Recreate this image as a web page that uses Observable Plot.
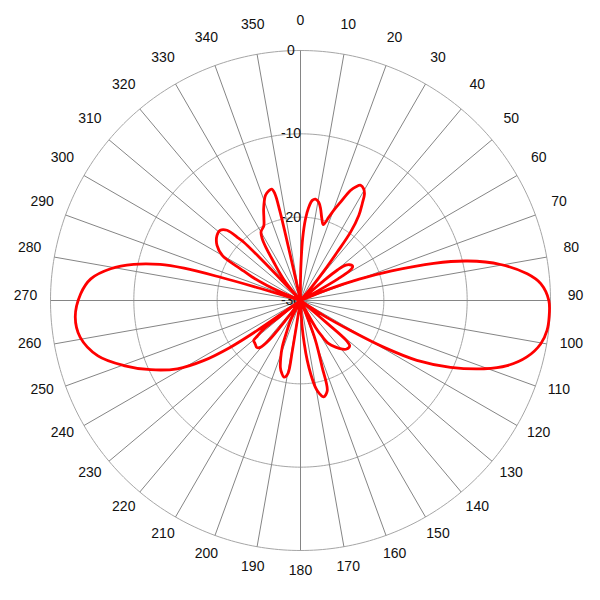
<!DOCTYPE html>
<html>
<head>
<meta charset="utf-8">
<script src="https://cdn.jsdelivr.net/npm/d3@7"></script>
<script src="https://cdn.jsdelivr.net/npm/@observablehq/plot@0.6"></script>
<style>
  body { margin: 0; background: #fff; }
  #chart svg { display: block; background: #fff; }
</style>
</head>
<body>
<div id="chart"></div>
<script>
// Pattern: azimuth (degrees, clockwise from top) and gain (dB).
const angles = [
  0, 1, 2, 3.5, 5, 6.7, 8.4, 10.5, 12.3, 14.5, 16.7, 18.8, 20.5, 22.1, 24.4, 26, 27.6, 29.5, 31, 32.5, 34.4, 36.2, 37.2, 38.5, 40, 41.5,
  48.5, 49.5, 50.5, 52, 54, 56, 57.5, 59, 60, 61, 62,
  66, 68, 70, 72, 74.4, 76.7, 79.8, 83.3, 86, 90, 93.8, 96.9, 100.2, 104, 107.5, 110.4, 114, 117.2, 119.3, 121, 123, 125, 126,
  129.5, 130.5, 131, 132.5, 134, 137, 139.2, 143, 146.8, 149, 150.7, 152.5,
  156.5, 158.1, 159.4, 162, 163.5, 166.5, 168.5, 170.2, 172, 173.6, 175, 176.4, 178,
  188.5, 189.2, 189.6, 191, 192.3, 194.5, 196.7, 199, 201.4, 204, 206.6, 208.5,
  215.5, 216.9, 218.4, 220.6, 223, 225, 227, 229.4, 230.5, 231.9, 232.4, 233,
  234.5, 235.3, 236.3, 238.2, 241, 245.2, 249.8, 254.7, 260.5, 265.8, 271.7, 275.9, 279.5, 282.2, 284.4, 285.5, 286.2, 286.7, 287.5,
  291.5, 293, 294.2, 296, 297.8, 299.9, 303.4, 307.9, 311.2, 313.7, 315.2, 315.8, 316.4, 317, 317.8,
  319.5, 320.7, 323, 325.1, 326.8, 328.2, 330.1, 333.9, 336, 338.2, 341.6, 343.9, 345.5, 346.5, 347, 347.3, 347.8,
  358.5
];
const gains = [
  -27.5, -25, -22.5, -20.2, -18.8, -17.9, -17.7, -18.0, -18.7, -19.8, -20.5, -19.4, -18.3, -17.3, -15.5, -14.8, -14.4, -14.6, -15.1, -16.2, -17.6, -19.8, -22.7, -25.5, -28, -30,
  -30, -26.5, -24.2, -23.1, -22.7, -22.5, -22.6, -23.2, -24.8, -27.5, -30,
  -30, -26.5, -22.5, -18.5, -13.4, -9.4, -5.6, -2.6, -1.1, -0.2, -0.1, -0.2, -0.7, -2.0, -4.0, -6.5, -10.3, -14.3, -18.5, -23, -26.5, -29, -30,
  -30, -26, -22.8, -22.0, -21.9, -22.0, -22.3, -23.0, -23.8, -25, -26.3, -30,
  -30, -27.8, -24.9, -21.6, -18.7, -18.1, -18.6, -19.4, -21, -22.8, -24.8, -26.8, -30,
  -30, -24, -21.2, -20.7, -20.6, -21.0, -21.6, -22.7, -24.0, -26, -27.3, -30,
  -30, -27, -23.9, -22.6, -22.3, -22.4, -22.5, -22.6, -23.3, -24.2, -26.7, -30,
  -30, -23.7, -19.9, -16.3, -13.1, -10.2, -7.4, -4.8, -3.2, -2.9, -3.6, -4.7, -6.9, -9.5, -12.6, -15.5, -20, -25, -30,
  -30, -27.5, -25.6, -23.5, -21.9, -19.2, -18.0, -17.3, -17.2, -17.8, -19.5, -20.2, -23, -27, -30,
  -30, -27.2, -25.8, -24.4, -22.5, -21.3, -20.5, -20.0, -19.2, -18.1, -16.7, -16.3, -16.2, -16.8, -19, -25, -30,
  -30
];

// Axis / tick labels
const angleTicks = [0, 10, 20, 30, 40, 50, 60, 70, 80, 90, 100, 110, 120, 130, 140, 150, 160, 170,
                    180, 190, 200, 210, 220, 230, 240, 250, 260, 270, 280, 290, 300, 310, 320, 330, 340, 350];
const ringTicks = [0, -10, -20, -30];

const MIN_DB = -30;
const MAX_DB = 0;
const R = MAX_DB - MIN_DB;           // radial span in scale units
const rad = a => a * Math.PI / 180;
const rOf = g => Math.max(g, MIN_DB) - MIN_DB;
const toX = (a, g) => rOf(g) * Math.sin(rad(a));
const toY = (a, g) => rOf(g) * Math.cos(rad(a));

const pattern = angles.map((a, i) => ({a, g: gains[i]}));
const ringPts = ringTicks.filter(v => v > MIN_DB)
  .flatMap(v => d3.range(0, 361, 1).map(a => ({v, a})));
const labelR = MAX_DB + 3; // angle labels just outside the outer ring

const chart = Plot.plot({
  width: 600,
  height: 600,
  marginTop: 50, marginBottom: 50, marginLeft: 50, marginRight: 50,
  x: {domain: [-R, R], axis: null},
  y: {domain: [-R, R], axis: null},
  style: {fontFamily: "Arial, 'Liberation Sans', sans-serif", fontSize: "14px", background: "#fff"},
  marks: [
    Plot.line(ringPts, {x: d => toX(d.a, d.v), y: d => toY(d.a, d.v), z: "v", stroke: "#a6a6a6", strokeWidth: 1}),
    Plot.link(angleTicks, {
      x1: a => toX(a, MIN_DB), y1: a => toY(a, MIN_DB),
      x2: a => toX(a, MAX_DB), y2: a => toY(a, MAX_DB),
      stroke: "#858585", strokeWidth: 1
    }),
    Plot.text(angleTicks, {x: a => toX(a, labelR), y: a => toY(a, labelR), text: a => String(a), dy: -5, fill: "#111", fontSize: 14}),
    Plot.text(ringTicks, {x: v => toX(0, MIN_DB), y: v => toY(0, v), text: v => String(v), dx: -9.5, fill: "#111", fontSize: 14}),
    Plot.line(pattern, {x: d => toX(d.a, d.g), y: d => toY(d.a, d.g), curve: "catmull-rom-closed", stroke: "#ff0000", strokeWidth: 2.8, strokeLinejoin: "round"})
  ]
});
document.getElementById("chart").appendChild(chart);
</script>
</body>
</html>
